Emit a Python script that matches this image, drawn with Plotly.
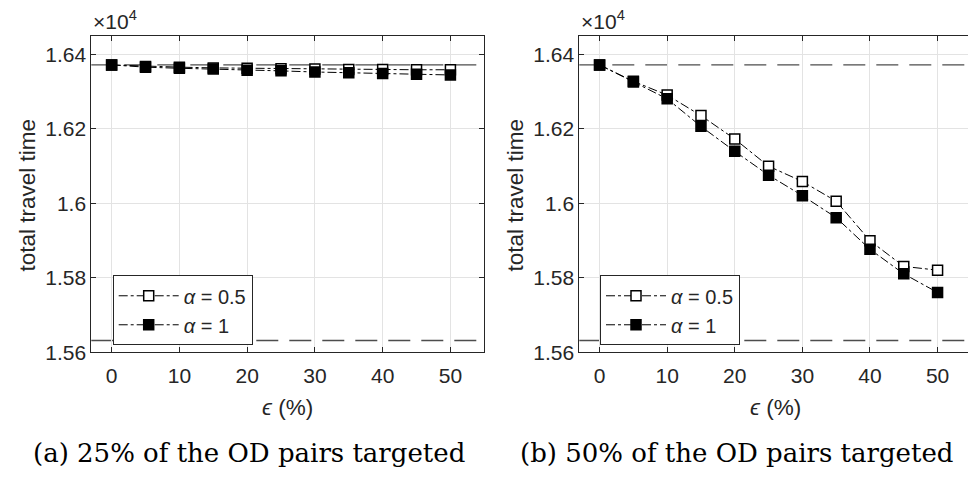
import plotly.graph_objects as go

eps = [0, 5, 10, 15, 20, 25, 30, 35, 40, 45, 50]

# (a) 25% of OD pairs targeted (values x 10^4)
a_half = [1.6372, 1.6368, 1.6366, 1.6364, 1.6363, 1.6362, 1.6361, 1.6360, 1.6360, 1.6359, 1.6359]
a_one = [1.6372, 1.6366, 1.6363, 1.6361, 1.6358, 1.6356, 1.6353, 1.6351, 1.6349, 1.6347, 1.6345]

# (b) 50% of OD pairs targeted
b_half = [1.6372, 1.6328, 1.6291, 1.6236, 1.6173, 1.6100, 1.6059, 1.6006, 1.5900, 1.5831, 1.5821]
b_one = [1.6372, 1.6326, 1.6281, 1.6207, 1.6140, 1.6076, 1.6021, 1.5962, 1.5877, 1.5811, 1.5761]

upper_bound = 1.6372
lower_bound = 1.5632

y_ticks = [1.56, 1.58, 1.60, 1.62, 1.64]
y_ticktext = ["1.56", "1.58", "1.6", "1.62", "1.64"]
x_ticks = [0, 10, 20, 30, 40, 50]

captions = ["(a) 25% of the OD pairs targeted", "(b) 50% of the OD pairs targeted"]
series_names = ["<i>α</i> = 0.5", "<i>α</i> = 1"]

W, H = 968, 482
AX = "#262626"
FONT = "Liberation Sans"

fig = go.Figure()

panels = [
    (a_half, a_one, "x", "y", "legend"),
    (b_half, b_one, "x2", "y2", "legend2"),
]
for half, one, xa, ya, leg in panels:
    fig.add_trace(go.Scatter(
        x=eps, y=half, xaxis=xa, yaxis=ya, mode="lines+markers",
        name=series_names[0], legend=leg,
        line=dict(color="black", width=1, dash="dashdot"),
        marker=dict(symbol="square", size=10, color="white",
                    line=dict(color="black", width=1.5)),
    ))
    fig.add_trace(go.Scatter(
        x=eps, y=one, xaxis=xa, yaxis=ya, mode="lines+markers",
        name=series_names[1], legend=leg,
        line=dict(color="black", width=1, dash="dashdot"),
        marker=dict(symbol="square", size=10, color="black",
                    line=dict(color="black", width=1.5)),
    ))


def px_x(p):
    return p / W


def px_y(p):
    return (H - p) / H


ydom = [px_y(360.7), px_y(36.7)]
xdom1 = [px_x(91.3), px_x(484.3)]
xdom2 = [px_x(579.3), 1.0]

axis_common = dict(
    showgrid=True, gridcolor="#e3e3e3", gridwidth=1,
    showline=True, linecolor=AX, linewidth=1,
    ticks="inside", ticklen=5, tickcolor=AX, tickwidth=1,
    tickfont=dict(family=FONT, size=21, color=AX),
    zeroline=False,
)

legend_common = dict(
    xanchor="left", yanchor="top",
    bgcolor="white", bordercolor=AX, borderwidth=1,
    font=dict(family=FONT, size=20, color=AX),
    tracegroupgap=0, itemwidth=60,
)

fig.update_layout(
    width=W, height=H,
    margin=dict(l=0, r=0, t=0, b=0),
    paper_bgcolor="white", plot_bgcolor="white",
    xaxis=dict(domain=xdom1, range=[-3, 55], tickvals=x_ticks, mirror="ticks",
               anchor="y", ticklabelstandoff=4, **axis_common),
    yaxis=dict(domain=ydom, range=[1.56, 1.645], tickvals=y_ticks, ticktext=y_ticktext,
               mirror="ticks", anchor="x", **axis_common),
    xaxis2=dict(domain=xdom2, range=[-3, 54.5], tickvals=x_ticks, mirror="ticks",
                anchor="y2", ticklabelstandoff=4, **axis_common),
    yaxis2=dict(domain=ydom, range=[1.56, 1.645], tickvals=y_ticks, ticktext=y_ticktext,
                mirror=False, anchor="x2", **axis_common),
    legend=dict(x=px_x(112.7), y=px_y(281.7), **legend_common),
    legend2=dict(x=px_x(600), y=px_y(281.7), **legend_common),
    showlegend=True,
)

# bound lines
for xa, ya in [("x", "y"), ("x2", "y2")]:
    for val in (upper_bound, lower_bound):
        fig.add_shape(type="line", xref=f"{xa} domain", yref=ya,
                      x0=0, x1=1, y0=val, y1=val,
                      line=dict(color="#4d4d4d", width=1.4, dash="22px,11px"),
                      layer="below")

ann = []
for i, (xl, xc) in enumerate([(91.3, 287.8), (579.3, 775.5)]):
    off = 0 if i == 0 else 488
    ann.append(dict(text="×10<sup>4</sup>", x=px_x(xl), y=px_y(36), xref="paper", yref="paper",
                    xanchor="left", yanchor="bottom", showarrow=False,
                    font=dict(family=FONT, size=21, color=AX)))
    ann.append(dict(text="total travel time", x=px_x(27 + off), y=px_y(200), xref="paper", yref="paper",
                    xanchor="center", yanchor="middle", textangle=-90, showarrow=False,
                    font=dict(family=FONT, size=22.5, color=AX)))
    ann.append(dict(text="<i>ϵ</i> (%)", x=px_x(xc), y=px_y(417), xref="paper", yref="paper",
                    xanchor="center", yanchor="middle", showarrow=False,
                    font=dict(family=FONT, size=22.5, color=AX)))
    ann.append(dict(text=captions[i], x=px_x(248.5 + off), y=px_y(464), xref="paper", yref="paper",
                    xanchor="center", yanchor="middle", showarrow=False,
                    font=dict(family="DejaVu Serif", size=26, color="black")))
fig.update_layout(annotations=ann)

fig.write_html("out.html", config={"displayModeBar": False},
               post_script="document.body.style.margin='0px';")
